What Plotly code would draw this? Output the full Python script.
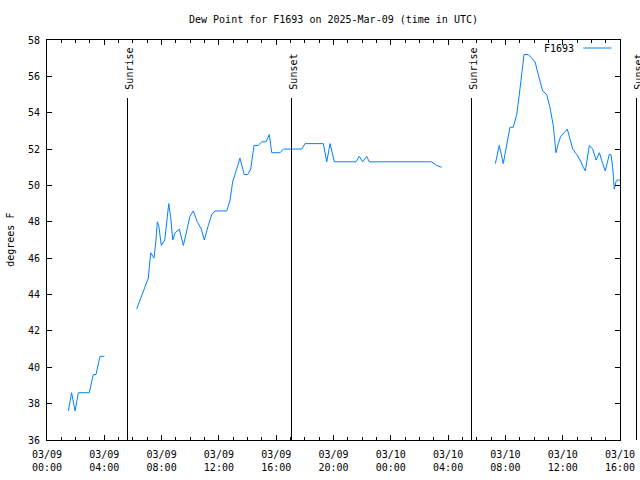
import plotly.graph_objects as go
import pandas as pd

BASE = pd.Timestamp("2025-03-09 00:00")
SPAN_H = 40.0

# segment 1 (hours after 03/09 00:00 UTC, dew point F)
hours1 = [1.49, 1.72, 1.96, 2.19, 2.95, 3.23, 3.42, 3.70, 4.00]
dew1 = [37.6, 38.6, 37.6, 38.6, 38.6, 39.6, 39.6, 40.6, 40.6]

hours2 = [6.26, 7.07, 7.24, 7.47, 7.61, 7.70, 7.80, 7.98, 8.22, 8.36, 8.50, 8.64,
          8.78, 8.94, 9.24, 9.52, 9.75, 9.98, 10.21, 10.49, 10.77, 10.98, 11.26,
          11.50, 11.73, 12.55, 12.78, 12.96, 13.24, 13.47, 13.77, 14.01, 14.22,
          14.40, 14.45, 14.75, 14.99, 15.29, 15.52, 15.69, 16.27, 16.50, 17.78,
          18.01, 19.29, 19.53, 19.76, 20.06, 21.57, 21.80, 22.04, 22.32, 22.50,
          26.86, 27.20, 27.55]
dew2 = [43.2, 44.9, 46.3, 46.0, 47.0, 48.0, 47.8, 46.7, 47.0, 48.0, 49.0, 48.2,
        47.0, 47.4, 47.6, 46.7, 47.6, 48.3, 48.6, 48.0, 47.6, 47.0, 47.8,
        48.4, 48.6, 48.6, 49.2, 50.2, 50.9, 51.5, 50.6, 50.6, 50.9,
        52.0, 52.2, 52.2, 52.4, 52.4, 52.8, 51.8, 51.8, 52.0, 52.0,
        52.3, 52.3, 51.3, 52.3, 51.3, 51.3, 51.6, 51.3, 51.6, 51.3,
        51.3, 51.1, 51.0]

hours3 = [31.30, 31.57, 31.85, 32.13, 32.32, 32.55, 32.79, 32.97, 33.16, 33.30,
          33.60, 33.84, 34.07, 34.23, 34.42, 34.60, 34.88, 35.11, 35.34, 35.53,
          35.69, 35.86, 36.09, 36.32, 36.46, 36.70, 36.98, 37.21, 37.44, 37.58,
          37.86, 38.09, 38.33, 38.56, 38.79, 38.97, 39.25, 39.37, 39.49, 39.60,
          39.72, 39.81, 40.00]
dew3 = [51.2, 52.2, 51.2, 52.5, 53.2, 53.2, 53.9, 55.0, 56.2, 57.2,
        57.2, 57.0, 56.8, 56.3, 55.7, 55.2, 55.0, 54.3, 53.3, 51.8,
        52.3, 52.7, 52.9, 53.1, 52.7, 52.0, 51.7, 51.4, 51.0, 50.8,
        52.2, 52.0, 51.4, 51.8, 51.2, 50.8, 51.7, 51.7, 51.0, 49.8,
        50.2, 50.3, 50.3]

sun_labels = ["Sunrise", "Sunset", "Sunrise", "Sunset"]
sun_hours = [5.58, 17.03, 29.60, 41.12]

y_ticks = list(range(36, 59, 2))
x_tick_hours = list(range(0, 41, 4))
x_tick_text = [(BASE + pd.Timedelta(hours=h)).strftime("%m/%d<br>%H:%M") for h in x_tick_hours]

FONT = "DejaVu Sans Mono"
ML, MR = 47, 20
PLOT_W = 640 - ML - MR

hours, dew = [], []
for hs, ds in ((hours1, dew1), (hours2, dew2), (hours3, dew3)):
    if hours:
        hours.append(None)
        dew.append(None)
    hours.extend(hs)
    dew.extend(ds)
times = [None if h is None else BASE + pd.Timedelta(hours=h) for h in hours]

fig = go.Figure()
fig.add_trace(go.Scatter(x=times, y=dew, mode="lines", name="F1693",
                         line=dict(color="#0080ff", width=1), connectgaps=False,
                         showlegend=False))

shapes = []
annotations = []
for lab, h in zip(sun_labels, sun_hours):
    # snap the vertical line to a pixel centre so it renders crisp
    pix = round(h / SPAN_H * PLOT_W) + 0.5
    px = pix / PLOT_W
    shapes.append(dict(type="line", xref="paper", yref="paper", x0=px, x1=px,
                       y0=0, y1=0.855, line=dict(color="black", width=1)))
    annotations.append(dict(text=lab, xref="paper", yref="paper", x=px + 0.002, y=0.87,
                            xanchor="center", yanchor="bottom", textangle=-90,
                            showarrow=False, font=dict(family=FONT, size=10, color="black")))

# legend (text then sample line, gnuplot style)
annotations.append(dict(text="F1693", xref="paper", yref="paper", x=0.923, y=0.98,
                        xanchor="right", yanchor="middle", showarrow=False,
                        font=dict(family=FONT, size=10, color="black")))
shapes.append(dict(type="line", xref="paper", yref="paper", x0=0.936, x1=0.985,
                   y0=0.98, y1=0.98, line=dict(color="#0080ff", width=1)))

# y axis title
annotations.append(dict(text="degrees F", xref="paper", yref="paper", x=-0.065, y=0.5,
                        xanchor="center", yanchor="middle", textangle=-90,
                        showarrow=False, font=dict(family=FONT, size=10, color="black")))

fig.update_layout(
    width=640, height=480,
    margin=dict(l=ML, r=MR, t=40, b=40, autoexpand=False),
    paper_bgcolor="white", plot_bgcolor="white",
    font=dict(family=FONT, size=10, color="black"),
    title=dict(text="Dew Point for F1693 on 2025-Mar-09 (time in UTC)",
               x=0.5, xref="paper", y=0.96, yanchor="middle",
               font=dict(family=FONT, size=10, color="black")),
    shapes=shapes, annotations=annotations,
)
fig.update_xaxes(
    range=[BASE, BASE + pd.Timedelta(hours=SPAN_H)],
    tickvals=[BASE + pd.Timedelta(hours=h) for h in x_tick_hours],
    ticktext=x_tick_text,
    showgrid=False, zeroline=False, automargin=False,
    showline=True, linecolor="black", linewidth=1, mirror="ticks",
    ticks="inside", ticklen=5, tickcolor="black", ticklabelstandoff=5,
    minor=dict(dtick=3600000, ticks="inside", ticklen=3, tickcolor="black", showgrid=False),
    tickfont=dict(family=FONT, size=10),
)
fig.update_yaxes(
    range=[36, 58], tickvals=y_ticks,
    showgrid=False, zeroline=False, automargin=False,
    showline=True, linecolor="black", linewidth=1, mirror="ticks",
    ticks="inside", ticklen=5, tickcolor="black", ticklabelstandoff=4,
    tickfont=dict(family=FONT, size=10),
)

fig.write_html("out.html", config={"displayModeBar": False},
               post_script="document.body.style.margin='0';")
